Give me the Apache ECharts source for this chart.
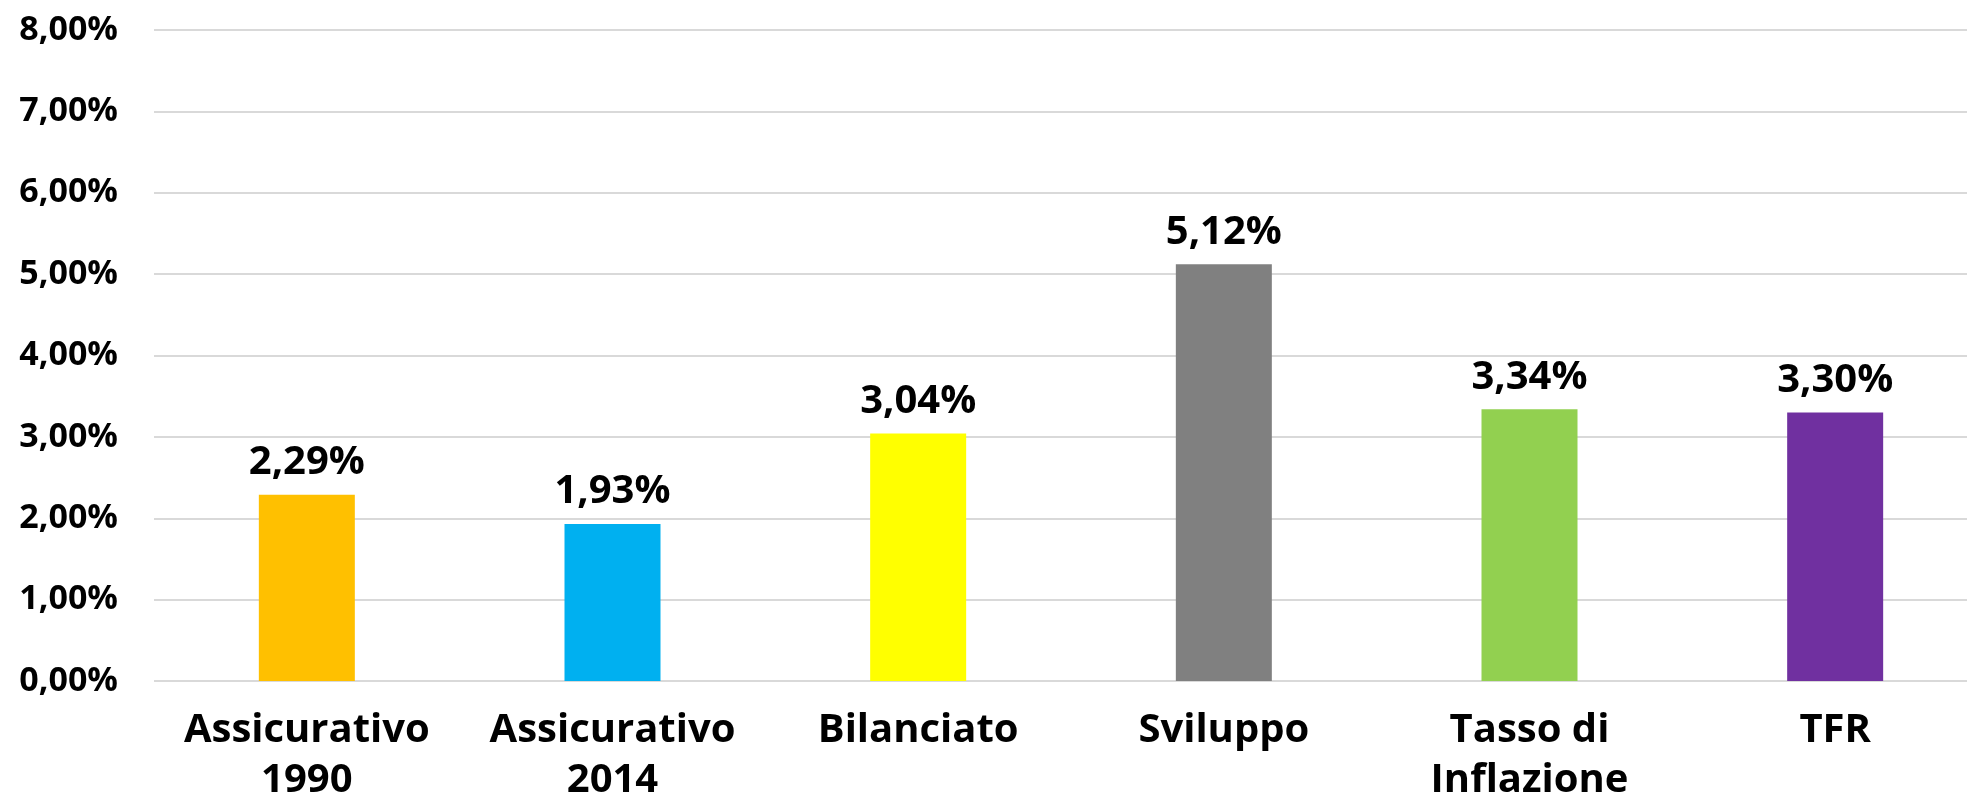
<!DOCTYPE html>
<html>
<head>
<meta charset="utf-8">
<title>Rendimenti</title>
<script src="https://cdn.jsdelivr.net/npm/echarts@6/dist/echarts.min.js"></script>
<style>
	html,body{margin:0;padding:0;background:#fff;overflow:hidden;}
	#chart1{width:1967px;height:799px;}
</style>
</head>
<body>
<div id="chart1"></div>
<script>
var categories = ["Assicurativo\n1990", "Assicurativo\n2014", "Bilanciato", "Sviluppo", "Tasso di\nInflazione", "TFR"];
var values = [2.29, 1.93, 3.04, 5.12, 3.34, 3.30];
var colors = ["#FFC000", "#00B0F0", "#FFFF00", "#808080", "#92D050", "#7030A0"];
var yTicks = [0, 1, 2, 3, 4, 5, 6, 7, 8];

function pct(v){
	return v.toFixed(2).replace('.', ',') + '%';
}

var chart1 = echarts.init(document.getElementById('chart1'));
	option1 = {
		animation: false,
		grid: {
			left: 154,
			right: -21,
			top: 30,
			bottom: 118,
			outerBoundsMode: 'none'
		},
		/******坐标轴*******/
		xAxis: {
			type: 'category',
			data: categories,
			axisLine: {show: false},
			axisTick: {show: false},
			axisLabel: {
				interval: 0,
				margin: 25,
				fontFamily: 'Open Sans',
				fontWeight: 'bold',
				fontSize: 40,
				lineHeight: 50,
				color: '#000'
			}
		},
		yAxis: {
			type: 'value',
			min: yTicks[0],
			max: yTicks[yTicks.length - 1],
			interval: 1,
			axisLabel: {
				margin: 36,
				fontFamily: 'Open Sans',
				fontWeight: 'bold',
				fontSize: 34,
				color: '#000',
				formatter: function(v){ return pct(v); }
			},
			splitLine: {
				lineStyle: {color: '#D9D9D9', width: 2}
			}
		},
		//表内数据
		series: [{
			type: 'bar',
			barWidth: 96,
			data: values.map(function(v, i){
				return {value: v, itemStyle: {color: colors[i]}};
			}),
			label: {
				show: true,
				position: 'top',
				distance: 12,
				fontFamily: 'Open Sans',
				fontWeight: 'bold',
				fontSize: 40,
				color: '#000',
				formatter: function(p){ return pct(p.value); }
			}
		}]
	};
	chart1.setOption(option1);
</script>
</body>
</html>
